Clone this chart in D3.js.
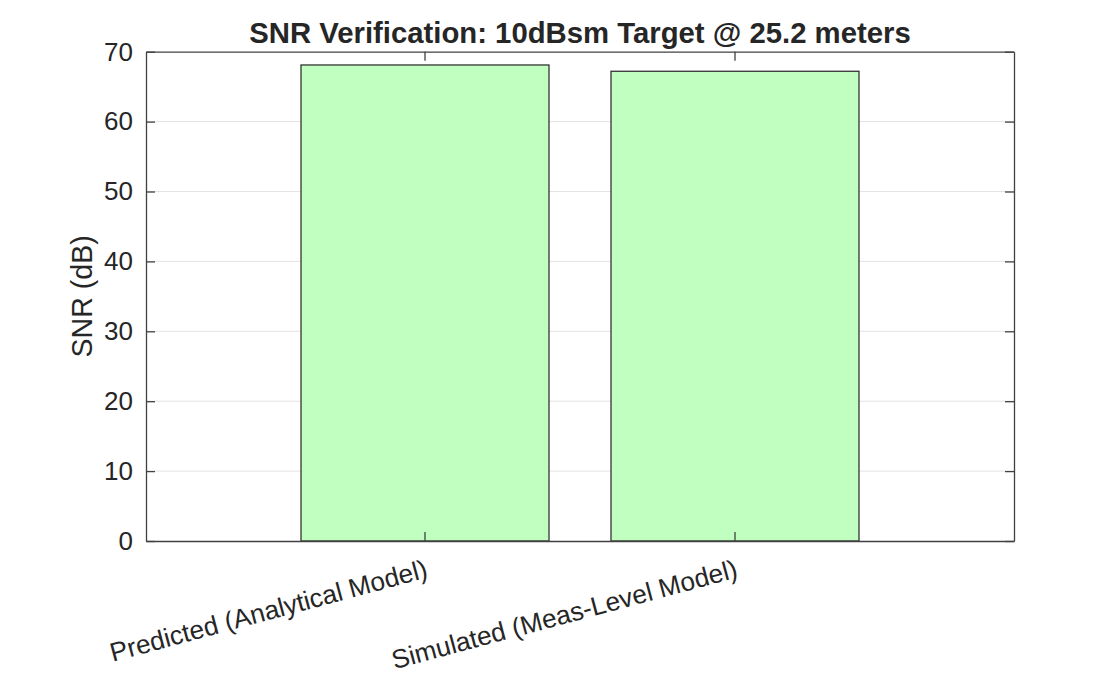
<!DOCTYPE html>
<html>
<head>
<meta charset="utf-8">
<script src="https://cdn.jsdelivr.net/npm/d3@7"></script>
<style>
  body { margin: 0; background: #fff; }
  text { font-family: "Liberation Sans", Arial, Helvetica, sans-serif; fill: #262626; }
</style>
</head>
<body>
<svg id="chart"></svg>
<script>
// data
const categories = ['Predicted (Analytical Model)', 'Simulated (Meas-Level Model)'];
const snrValues = [68.1, 67.2];
const yTicks = [0, 10, 20, 30, 40, 50, 60, 70];
const titleText = 'SNR Verification: 10dBsm Target @ 25.2 meters';
const yLabelText = 'SNR (dB)';

// setting up svg
const W = 1120, H = 674;
const m = { left: 146, right: 1014, top: 51.7, bottom: 541 };
const svg = d3.select('#chart').attr('width', W).attr('height', H);

// scales
const x = d3.scaleBand()
  .domain(categories)
  .range([m.left, m.right])
  .paddingInner(0.2)
  .paddingOuter(0.5);

const y = d3.scaleLinear()
  .domain([0, 70])
  .range([m.bottom, m.top]);

const axisColor = '#404040';
const tickLen = 9;

// grid
svg.append('g')
  .selectAll('line')
  .data(yTicks.filter(d => d > 0 && d < 70))
  .enter()
  .append('line')
  .attr('x1', m.left).attr('x2', m.right)
  .attr('y1', d => y(d)).attr('y2', d => y(d))
  .attr('stroke', '#e3e3e3')
  .attr('stroke-width', 1);

// bars
svg.append('g')
  .selectAll('rect')
  .data(snrValues)
  .enter()
  .append('rect')
  .attr('x', (d, i) => x(categories[i]))
  .attr('y', d => y(d))
  .attr('width', x.bandwidth())
  .attr('height', d => y(0) - y(d))
  .attr('fill', '#c0ffc0')
  .attr('stroke', '#333')
  .attr('stroke-width', 1.3);

// left axis (ticks inside)
const yAxisL = d3.axisLeft(y).tickValues(yTicks).tickSize(-tickLen).tickPadding(13).tickSizeOuter(0);
const gl = svg.append('g').attr('transform', `translate(${m.left},0)`).call(yAxisL);

// right axis, no labels
const yAxisR = d3.axisRight(y).tickValues(yTicks).tickSize(-tickLen).tickFormat('').tickSizeOuter(0);
const gr = svg.append('g').attr('transform', `translate(${m.right},0)`).call(yAxisR);

// bottom axis
const xAxisB = d3.axisBottom(x).tickSize(-tickLen).tickFormat('').tickSizeOuter(0);
const gb = svg.append('g').attr('transform', `translate(0,${m.bottom})`).call(xAxisB);

// top axis
const xAxisT = d3.axisTop(x).tickSize(-tickLen).tickFormat('').tickSizeOuter(0);
const gt = svg.append('g').attr('transform', `translate(0,${m.top})`).call(xAxisT);

[gl, gr, gb, gt].forEach(g => {
  g.selectAll('path').attr('stroke', axisColor).attr('stroke-width', 1.3);
  g.selectAll('line').attr('stroke', axisColor).attr('stroke-width', 1.3);
});
gl.selectAll('text')
  .style('font-size', '26px')
  .attr('fill', '#262626')
  .attr('font-family', '"Liberation Sans", Arial, sans-serif');

// rotated category labels
svg.append('g')
  .selectAll('text')
  .data(categories)
  .enter()
  .append('text')
  .attr('transform', d => `translate(${x(d) + x.bandwidth() / 2 + 4},577) rotate(-15)`)
  .attr('text-anchor', 'end')
  .style('font-size', '26.3px')
  .text(d => d);

// y label
svg.append('text')
  .attr('transform', `translate(92,${(m.top + m.bottom) / 2}) rotate(-90)`)
  .attr('text-anchor', 'middle')
  .style('font-size', '28.6px')
  .text(yLabelText);

// title
svg.append('text')
  .attr('x', (m.left + m.right) / 2)
  .attr('y', 43)
  .attr('text-anchor', 'middle')
  .style('font-size', '29.3px')
  .style('font-weight', 'bold')
  .text(titleText);
</script>
</body>
</html>
